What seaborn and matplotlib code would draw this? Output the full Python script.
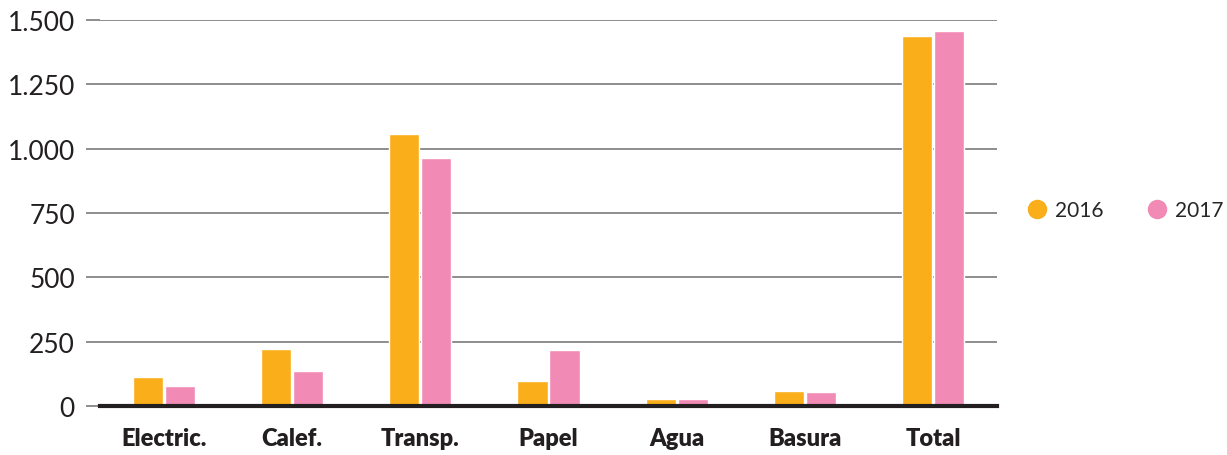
import matplotlib
matplotlib.use("Agg")
import matplotlib.pyplot as plt
from matplotlib.lines import Line2D
import seaborn as sns
import pandas as pd

categories = ["Electric.", "Calef.", "Transp.", "Papel", "Agua", "Basura", "Total"]
values_2016 = [113, 222, 1057, 97, 27, 58, 1438]
values_2017 = [78, 136, 964, 218, 27, 54, 1457]
years = ["2016", "2017"]
ytick_values = [0, 250, 500, 750, 1000, 1250, 1500]
ytick_labels = ["0", "250", "500", "750", "1.000", "1.250", "1.500"]

colors = {"2016": "#F9AE1A", "2017": "#F18AB5"}

df = pd.DataFrame({
    "categoria": categories * 2,
    "valor": values_2016 + values_2017,
    "año": [years[0]] * len(categories) + [years[1]] * len(categories),
})

sns.set_theme(style="white")
plt.rcParams["font.family"] = ["Lato", "DejaVu Sans"]

fig = plt.figure(figsize=(12.27, 4.56), dpi=100)
ax = fig.add_axes([100 / 1227, 49 / 456, 897 / 1227, 386 / 456])

sns.barplot(data=df, x="categoria", y="valor", hue="año", order=categories,
            hue_order=years, palette=colors, width=0.5, gap=0.06,
            saturation=1, ax=ax, legend=False)

ax.set_ylim(0, 1500)
ax.set_yticks(ytick_values)
ax.set_yticklabels(ytick_labels, fontsize=19, color="#231F20")
ax.set_xlabel("")
ax.set_ylabel("")
ax.set_xticks(range(len(categories)))
ax.set_xticklabels(categories, fontsize=17, fontweight="heavy", color="#231F20")

ax.yaxis.grid(True, color="#7a7a7a", linewidth=1.2)
ax.set_axisbelow(True)
ax.tick_params(axis="y", length=10, width=1.2, color="#7a7a7a", pad=8, left=True)
ax.tick_params(axis="x", length=0, pad=15)
for side in ["top", "right", "left"]:
    ax.spines[side].set_visible(False)
ax.spines["bottom"].set_color("#231F20")
ax.spines["bottom"].set_linewidth(3)

handles = [Line2D([0], [0], marker="o", linestyle="", markersize=13,
                  markerfacecolor=colors[y], markeredgecolor=colors[y], label=y)
           for y in years]
fig.legend(handles=handles, loc="center left", bbox_to_anchor=(1016 / 1227, 1 - 211 / 456),
           ncol=2, frameon=False, fontsize=15, handletextpad=0.25, columnspacing=2.0,
           handlelength=1.2, borderaxespad=0)

fig.savefig("out.png", dpi=100)
